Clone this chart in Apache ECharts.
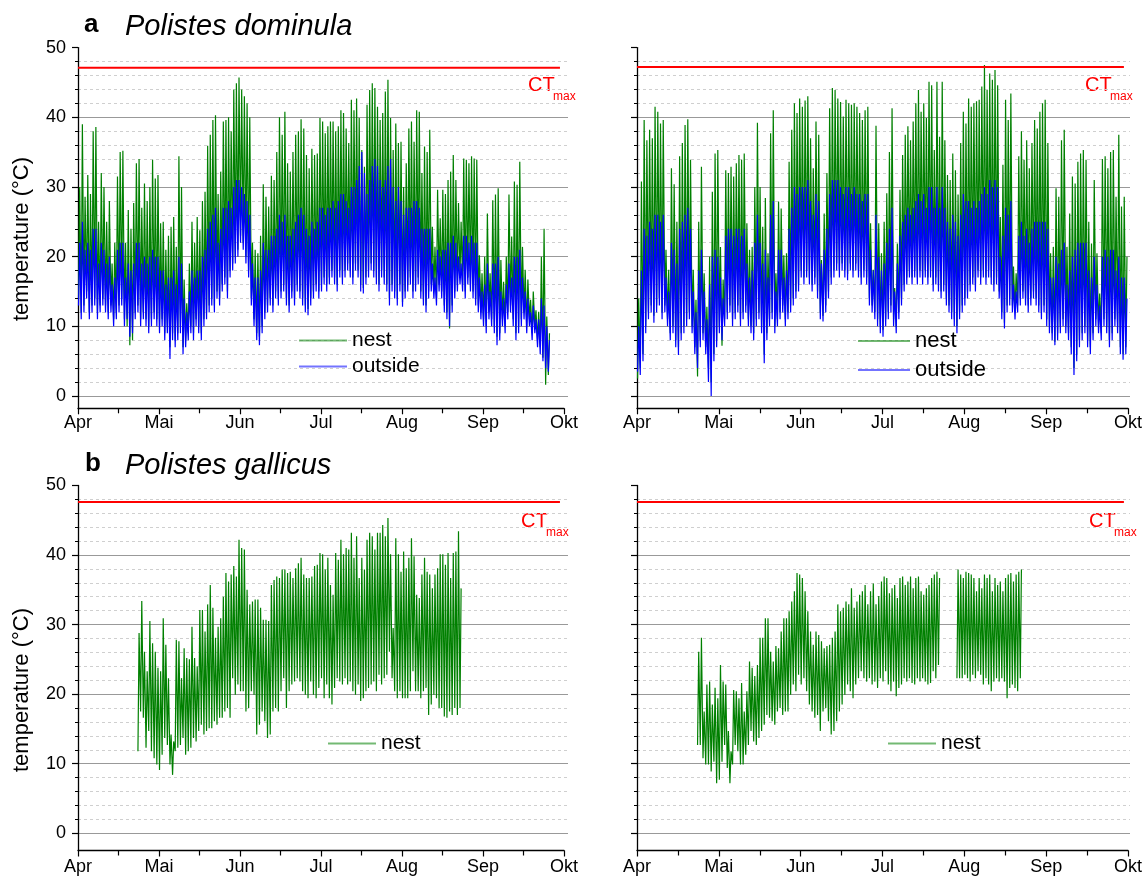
<!DOCTYPE html>
<html>
<head>
<meta charset="utf-8">
<title>Nest temperatures of Polistes</title>
<script src="https://cdn.jsdelivr.net/npm/echarts@6.0.0/dist/echarts.min.js"></script>
<style>
  html, body { margin: 0; padding: 0; background: #fff; }
  #chart { width: 1148px; height: 882px; }
</style>
</head>
<body>
<div id="chart"></div>
<script>
// ---- axis labels ----
const monthLabels = ['Apr', 'Mai', 'Jun', 'Jul', 'Aug', 'Sep', 'Okt'];
const monthDays = [30, 31, 30, 31, 31, 30];   // April .. September

// ---- critical thermal maximum (°C) ----
const ctMaxDominula = [47.1, 47.2];
const ctMaxGallicus = [47.6, 47.6];
const ctLineSpanMonths = [0, 5.95];

// ---- Polistes dominula, site 1 (daily max / min, from 1 April) ----
const domS1Start = 0;
const domS1NestMax = [
  30,39,28.6,31.7,29,38,38.6,25,32,30, 25,28,19,22,31.5,35,35.2,22,26.7,24,
  27.7,33.4,34,27,30.5,28,30,33.9,31.2,31.7, 24.8,25,21,23,24.3,25.7,21.4,34.4,30,16.7,
  13.3,19,25,22,25.7,23.8,28,29.3,35.9,37.5, 39.6,40.3,29,32.2,39.4,39.6,40,38,44,44.9,
  45.7,
  44,43,42,40,22,21,20.5,23,30.4, 28.6,27.2,31.6,31,35,40,37.5,40.8,33.4,32.2,
  35,37.5,38,39.7,38.4,34.6,32.7,35.5,34.6,34.8, 39.9,39.4,37.7,38.7,39.4,39.4,38,38.7,41,40.6,
  38.4,36.3,42.5,41,42.7,39.9,35.3,32.9,41.8,43.9, 44.9,44.2,41.5,39.6,40.6,43.7,45.4,39.9,35.3,39.1,
  36.3,36.5,30,33.4,
  38.4,39.4,36.5,41,40.8,32, 35.8,35,38.2,24.3,21.4,29.6,25.5,29.6,29,31,
  32.2,34.6,31,27.7,25,34.1,33.9,33.4,34.4,34.1, 33.9,20.2,17.6,20,26.2,17.6,28.1,28.9,29.8,19.5,
  16.4,20,28.9,22.9,30.8,30.3,33.6,21.4,18.1,16.7, 13.8,15,12.3,12.1,20,24,11.4,9
];
const domS1NestMin = [
  14,12,13,15,12,13,14,12,13,14, 13,12,13,11,12,13,14,11,10,7.3,
  8,12,13,11,12,11,10,11,12,11, 10,11,9,10,7,9,8,9,10,7,
  8,9,10,9,11,10,9,11,12,13, 14,13,15,14,16,17,15,18,19,20,
  21,
  23,22,20,18,14,11,9,8.5,10, 12,13,14,13,15,14,15,16,14,13,
  15,14,16,15,14,13,12.5,14,15,16, 15,16,17,16,17,18,17,16,18,17,
  18,19,18,17,19,18,16,15.5,17,18, 19,18,17,16,18,17,16,14,16,15,
  14,16,13.5,15,
  16,17,15,16,17,15, 14,13,15,16,15,14,16,15,13,12,
  9.7,13,15,16,17,16,15,17,16,15, 14,13,12,11,10,12,11,10,8.5,9,
  11,10,12,13,11,9,10,11,12,10, 11,9,10,8,7,5.5,1.6,3
];
const domS1OutMax = [
  22,25,21,22,21,24,24,19,22,21, 19,20,16,17,21,22,22,17,19,18,
  19,22,22,19,20,19,20,21,20,20, 18,18,16,17,17,18,16,20,19,14,
  12,15,18,17,18,18,20,21,24,25, 26,27,22,24,27,27,28,27,30,31,
  31,
  30,29,28,26,19,17,17,18,22, 21,21,23,23,24,26,25,26,23,23,
  24,25,26,27,26,24,23,25,24,25, 27,27,26,27,27,28,27,28,29,29,
  28,27,30,30,31,33,35,32,29,31, 33,34,33,31,30,31,33,34,30,28,
  30,28,26,27,
  27,27,28,28,27,24, 24,24,24,19,17,21,20,21,21,22,
  22,23,22,20,19,23,23,22,23,22, 22,17,15,16,19,15,19,19,20,15,
  14,16,19,17,20,20,21,17,15,14, 12,13,11,11,14,13,10,8
];
const domS1OutMin = [
  13,11,12,14,11,12,13,11,12,13, 12,11,12,10,11,12,13,10,11,8.5,
  9,11,12,10,11,10,9,10,11,10, 9,10,8,9,5.3,8,7,8,9,6,
  7,8,9,8,10,9,8,10,11,12, 13,12,14,13,15,16,14,17,18,19,
  20,
  22,21,19,17,13,10,8,7.3,9, 11,12,13,12,14,13,14,15,13,12,
  14,13,15,14,13,12,11.6,13,14,15, 14,15,16,15,16,17,16,15,17,16,
  17,18,17,16,18,17,15,14.7,16,17, 18,17,16,15,17,16,15,13,15,14,
  13,15,12.8,14,
  15,16,14,15,16,14, 13,12,14,15,14,13,15,14,12,11,
  10,12,14,15,16,15,14,16,15,14, 13,12,11,10,9,11,10,9,7.3,8,
  10,9,11,12,10,8,9,10,11,9, 10,8,9,7,6,5,4,3.5
];

// ---- Polistes dominula, site 2 ----
const domS2Start = 0;
const domS2NestMax = [
  14,30.8,39.6,36.7,38.2,37,41.5,40.8,39.1,39.6, 21,18.1,32.7,30.4,25,34.4,36.3,38.9,39.7,33.9,
  18.1,13.8,25,32.9,17.6,12.8,20,29.3,34.8,35.3, 21.4,16.7,32.4,32,32.9,31.5,33.4,34.6,33.9,34.8,
  24.8,21,21.4,30,39.2,30,24.3,28.4,20.5,37.7, 41,17.6,27.9,26.9,20.2,20.5,33.6,38.2,42,40.6,
  42.7,
  41.5,42.4,43,37,32.7,39.4,37.5,19.5,26.2, 32,41.3,44.2,43.9,42.7,42.2,40.1,42.5,42,41.8,
  42,41.5,40.6,39.6,41,41.5,24.8,18.1,38.8,24.8, 20.5,25,29.1,35,41.3,15.5,21.9,29.6,34.6,37.5,
  38.7,36.7,39.4,42,43.9,40.8,42,39.9,45.1,44.6, 35.3,45.1,37.2,45.1,36.7,31.7,31,34.8,32.4,28.9,
  36.3,40.8,39.1,
  42.7,41.5,42,42.3,42.5,44.4,47.5, 43.9,46.3,45.4,46.8,44.6,25.7,33.2,42.5,39.6,43.4,
  18.6,17.6,34.4,38,33.9,36.7,32.7,36.3,39.6,38.4, 40.8,42,42.5,36.3,20.5,21.4,29.8,28.6,36.7,38.2,
  21.4,26.2,31.5,30.5,33.6,34.8,35.3,33.9,25,21.9, 31,20.5,14.7,34,34.4,32.7,35,35.3,28.6,37.5,
  27.2,28.6,20
];
const domS2NestMin = [
  2.5,4,6,10,12,13,11.5,13,14,12, 13,11,9,10,8,7,9,10,11,12,
  10,7,2.8,8,9,7,4,2,6,8, 10,7.2,11,12,13,11,12,13,11,12,
  13,11,10,9,11,12,10,6,9,11, 12,10,11,12,13,11,12,13,14,15,
  16,
  18,17,18,17,16,17,15,12,11.5, 13,15,17,18,19,18,19,18,17.5,19,
  18,19,18,17,18,17,14,13,12,11, 10,9.5,11,12,13,11,9.9,12,14,16,
  17,18,17,18,17,18,17,18,17,18, 16,17,16,15,16,14,13,12,11,10,
  12,13,14,
  15,16,17,16,18,17,18, 17,18,17,16,17,15,12,10.5,13,14,
  13,12,13,14,15,14,13,14,15,14, 13,12,13,11,10,9,7.8,9,10,11,
  10,9,7,4,6,8,9,10,8,7, 9,11,10,9,11,10,8,9,11,10,
  7,6,7
];
const domS2OutMax = [
  10,18,24,23,25,24,26,26,25,26, 17,15,22,21,19,24,25,26,27,24,
  15,12,18,21,15,11,16,20,21,20, 17,14,23,24,24,23,24,24,23,24,
  19,17,18,22,26,22,19,21,17,26, 28,15,21,21,17,18,24,27,30,29,
  30,
  30,30,31,28,26,29,28,19,21, 24,29,31,31,31,30,29,30,30,29,
  30,29,29,28,29,29,21,18,26,20, 18,19,22,24,27,15,19,23,25,26,
  27,26,27,28,29,28,29,27,30,30, 27,30,27,30,27,25,24,26,25,23,
  26,29,28,
  28,27,28,27,28,29,30, 29,31,30,31,30,20,23,27,26,28,
  16,15,23,25,23,24,22,24,25,25, 25,25,25,24,17,17,20,19,21,22,
  16,18,20,21,22,22,22,22,18,17, 20,16,13,20,21,20,21,21,18,20,
  17,17,14
];
const domS2OutMin = [
  3.5,3,5,9,11,12,10.5,12,13,11, 12,10,8,9,7,5.9,8,9,10,11,
  9,6,4,7,8,6,2,0,5,7, 9,8,10,11,12,10,11,12,10,11,
  12,10,9,8,10,11,9,4.7,8,10, 11,9,10,11,12,10,11,12,13,14,
  15,
  17,16,17,16,15,16,14,11,10.7, 12,14,16,17,18,17,18,17,16.6,18,
  17,18,17,16,17,16,13,12,11,10, 9,8.5,10,11,12,10,9,11,13,15,
  16,17,16,17,16,17,16,17,16,17, 15,16,15,14,15,13,12,11,10,9,
  11,12,13,
  14,15,16,15,17,16,17, 16,17,16,15,16,14,11,9.7,12,13,
  12,11,12,13,14,13,12,13,14,13, 12,11,12,10,9,8,7.3,8,9,10,
  9,8,6,3,5,7,8,9,7,6, 8,10,9,8,10,9,7,8,10,9,
  6,5.2,6
];

// ---- Polistes gallicus, site 1 (from 23 April) ----
const galS1Start = 22;
const galS1NestMax = [
  28.8,33.4,26.1,23.3,30.5,27.3,26.1,23.8,23.3,30.9, 27.1,22.3,14.2,13.2,27.8,27.6,22.3,26.6,25.2,25,
  29.7,25.2,24,32.1,32.1,29,32.9,35.7,32.4,28.1, 29.7,30.9,34,37.4,36.2,37.2,38.4,36.9,42.2,41,
  40.8,35,32.9,33.3,33.6,33.6,32.4,30.7,30.7,30.5, 35.7,36.4,36.9,36.7,37.9,37.9,37.4,37.6,36.7,38.1,
  38.8,
  39.6,37.2,36.7,36.7,36.9,38.4,38.6,40.3,40.1,37.9, 39.6,35.7,34.3,40.3,39.3,42.2,40.1,41,40.8,43.2,
  39.6,42.7,36.7,39.6,37.9,42.2,43.2,42.7,40.8,43.2, 43.2,44.3,42.7,45.3,40.1,29.5,42.4,40.1,37.6,40.5,
  38.1,39.6,42.4,39.8,34.3,33.8,37.2,39.6,37.6,37.2, 35.2,37.2,38.1,40.1,40.1,38.6,40.3,36.7,40.3,40.5,
  43.4,35.2
];
const galS1NestMin = [
  11.8,17.5,16.6,12.3,14.7,11.8,10.8,9.9,9.1,11.3, 13.7,12.7,9.9,8.4,11.8,12.3,12.7,13.7,11.3,11.8,
  12.3,13.7,13.2,14.7,15.6,14.2,14.7,15.1,15.1,16.1, 15.6,16.6,16.6,17.5,18,16.6,22.3,19.9,21.4,20.4,
  20.4,17.5,18,20.4,19.9,14.2,15.6,17.5,16.1,13.7, 14.2,17.5,18,17.5,20.4,22.3,18,20.4,21.4,21.8,
  22.3,
  21.8,20.4,19.9,19.4,21.8,19.9,19.4,20.9,22.3,19.4, 21.4,19.4,18.5,20.9,22.3,21.8,21.4,22.3,21.4,21.8,
  20.4,19.9,21.4,19,19.4,20.4,20.9,21.4,21.8,20.4, 22.8,21.4,22.3,22.8,26.1,22.3,20.4,19.4,20.4,19.4,
  19.4,19.4,20.4,23.3,20.4,20.4,19.4,20.4,20.9,17, 18.5,19.9,19.4,18,18,16.8,16.6,17.5,17,18,
  17,18
];

// ---- Polistes gallicus, site 2 (logger gap 22.-29. July) ----
const galS2Start = 22;
const galS2NestMax = [
  26.1,28.1,17.5,21.4,21.8,18.5,20.9,19.4,24.2,21.8, 21.4,14.7,11.8,20.6,20.4,19.4,21.6,17.5,20.4,24.7,
  23.8,22.6,24.2,28.1,28.1,30.9,30.9,26.1,24.7,26.9, 26.6,29,30.9,30.9,31.9,33.3,34.8,37.4,37.2,36.7,
  34.8,31.9,29,27.1,29,28.5,27.6,26.6,26.9,27.1, 28.1,29,32.9,31.9,32.4,33.3,32.9,35.2,32.4,33.3,
  34.3,
  34.8,35.7,32.9,34.8,35.9,32.9,34.1,36.2,36.9,36.7, 34.5,35.2,35.7,33.8,36.7,36.9,35.7,36.2,36.9,35.2,
  36.7,36.9,34.8,34.3,35.2,35.7,36.7,37.2,37.6,36.7,
  null,null,null,null,null,null,
  37.9,37.2,36.7,37.6,37.4,37.2,36.7,34.8,36.7,35.2, 37.2,36.7,37.2,34.8,36.7,35.7,36.2,34.8,36.7,37.2,
  37.4,36.2,37.2,37.6,37.9
];
const galS2NestMin = [
  12.7,12.7,10.8,9.9,9.9,8.9,10.3,7.2,7.7,10.3, 12.7,9.4,7.2,9.9,12.7,11.8,9.9,9.9,11.3,12.7,
  14.7,13.2,12.7,13.7,14.7,15.6,17,16.6,16.1,15.6, 17.5,18,17,17.5,17.5,19.9,21.4,20.4,22.8,21.4,
  22.3,20.4,18.5,17.5,16.6,17,14.7,17.5,18,16.1, 14.2,14.7,16.1,17.5,18.5,19.9,21.4,20.4,19.4,21.4,
  22.3,
  23.3,22.3,21.8,22.3,21.4,21.8,20.9,22.3,21.8,23.3, 21.4,20.4,21.8,19.7,20.9,21.4,22.3,21.8,22.3,21.6,
  21.4,22.3,21.8,22.3,21.8,21.4,21.6,23.3,22.3,24.2,
  null,null,null,null,null,null,
  22.3,22.3,22.3,22.8,22.3,21.8,22.8,22.3,23.3,22.8, 21.4,22.3,21.4,20.4,21.8,22.3,21.8,22.3,21.8,19.4,
  20.9,21.4,20.9,20.4,22.3
];

// ---- helpers ----
// x axis runs in month units (0 = 1 April, 6 = 1 October)
function dayToMonthX(day) {
  let m = 0, start = 0;
  while (m < monthDays.length - 1 && day >= start + monthDays[m]) {
    start += monthDays[m];
    m++;
  }
  return m + (day - start) / monthDays[m];
}

// daily cycle: night minimum around 05:00, afternoon maximum around 15:00
function dailyCycle(startDay, mins, maxs) {
  const pts = [];
  for (let i = 0; i < maxs.length; i++) {
    const d = startDay + i;
    if (maxs[i] == null) { pts.push([dayToMonthX(d + 0.4), '-']); continue; }
    pts.push([dayToMonthX(d + 0.2), mins[i]]);
    pts.push([dayToMonthX(d + 0.62), maxs[i]]);
  }
  return pts;
}

// ---- layout ----
const FONT = '"Liberation Sans", Arial, Helvetica, sans-serif';
const colLeft = [78, 637];
const colWidth = [486, 491];
const colGridOverhang = [4, 2];  // horizontal grid lines run slightly past the October tick
const rowTop = [47.6, 485.4];    // y = 50 °C
const rowZero = [396.0, 833.3];  // y = 0 °C
const rowAxis = [408.3, 850.5];  // time axis line
const rowLabelMargin = [6, 8];

const GREEN = '#008000', BLUE = '#0000ff', RED = '#ff0000';

const panels = [
  { row: 0, col: 0, nest: [domS1Start, domS1NestMin, domS1NestMax], out: [domS1Start, domS1OutMin, domS1OutMax], ct: ctMaxDominula[0] },
  { row: 0, col: 1, nest: [domS2Start, domS2NestMin, domS2NestMax], out: [domS2Start, domS2OutMin, domS2OutMax], ct: ctMaxDominula[1] },
  { row: 1, col: 0, nest: [galS1Start, galS1NestMin, galS1NestMax], out: null, ct: ctMaxGallicus[0] },
  { row: 1, col: 1, nest: [galS2Start, galS2NestMin, galS2NestMax], out: null, ct: ctMaxGallicus[1] }
];

const grid = [], xAxis = [], yAxis = [], series = [];
panels.forEach((p, k) => {
  const left = colLeft[p.col], width = colWidth[p.col];
  const top = rowTop[p.row], zero = rowZero[p.row], axisY = rowAxis[p.row];
  const gA = 2 * k, gB = 2 * k + 1;
  // grid for the temperature scale (0..50)
  grid.push({ left: left, top: top, width: width + colGridOverhang[p.col], height: zero - top });
  // grid for the traces and the time axis (extends a little below 0 °C)
  grid.push({ left: left, top: top, width: width, height: axisY - top });
  const yMinB = -(axisY - zero) / (zero - top) * 50;

  xAxis.push({ gridIndex: gA, type: 'value', min: 0, max: 6, show: false });
  xAxis.push({
    gridIndex: gB, type: 'value', min: 0, max: 6, interval: 1,
    axisLine: { show: true, onZero: false, lineStyle: { color: '#000', width: 1.3 } },
    axisTick: { show: true, length: 6, lineStyle: { color: '#000', width: 1.2 } },
    minorTick: { show: true, splitNumber: 2, length: 5, lineStyle: { color: '#000', width: 1.2 } },
    axisLabel: { formatter: v => monthLabels[Math.round(v)], fontSize: 18, color: '#000', margin: rowLabelMargin[p.row], fontFamily: FONT },
    splitLine: { show: false }
  });

  yAxis.push({
    gridIndex: gA, type: 'value', min: 0, max: 50, interval: 10,
    axisLine: { show: false },
    axisTick: { show: true, length: 6, lineStyle: { color: '#000', width: 1.2 } },
    minorTick: { show: true, splitNumber: 5, length: 3, lineStyle: { color: '#000', width: 1 } },
    axisLabel: { show: p.col === 0, fontSize: 18, color: '#000', margin: 12, fontFamily: FONT },
    splitLine: { show: true, showMaxLine: false, lineStyle: { color: '#999', width: 1 } },
    minorSplitLine: { show: true, lineStyle: { color: '#cfcfcf', width: 1, type: [3, 3] } }
  });
  yAxis.push({
    gridIndex: gB, type: 'value', min: yMinB, max: 50,
    axisLine: { show: true, onZero: false, lineStyle: { color: '#000', width: 1.3 } },
    axisTick: { show: false }, axisLabel: { show: false }, splitLine: { show: false }
  });

  const base = { type: 'line', xAxisIndex: gB, yAxisIndex: gB, symbol: 'none', showSymbol: false, animation: false, silent: true };
  series.push(Object.assign({}, base, {
    name: 'nest', data: dailyCycle(p.nest[0], p.nest[1], p.nest[2]),
    lineStyle: { color: GREEN, width: 1.2 }, itemStyle: { color: GREEN }, z: 3
  }));
  if (p.out) {
    series.push(Object.assign({}, base, {
      name: 'outside', data: dailyCycle(p.out[0], p.out[1], p.out[2]),
      lineStyle: { color: BLUE, width: 1.2 }, itemStyle: { color: BLUE }, z: 4
    }));
  }
  series.push(Object.assign({}, base, {
    name: 'CTmax', data: ctLineSpanMonths.map(x => [x, p.ct]),
    lineStyle: { color: RED, width: 2 }, itemStyle: { color: RED }, z: 5
  }));
});

// legend keys are drawn as thin light strokes
const legendBase = {
  orient: 'vertical', padding: 0, icon: 'rect', itemHeight: 2,
  selectedMode: false,
  itemStyle: { opacity: 0.55 }
};
const legend = [
  Object.assign({}, legendBase, { data: ['nest', 'outside'], left: 299, top: 330, itemWidth: 48, itemGap: 5, textStyle: { color: '#000', fontSize: 21, fontFamily: FONT } }),
  Object.assign({}, legendBase, { data: ['nest', 'outside'], left: 858, top: 330, itemWidth: 52, itemGap: 7, textStyle: { color: '#000', fontSize: 22, fontFamily: FONT } }),
  Object.assign({}, legendBase, { data: ['nest'], left: 328, top: 733, itemWidth: 48, textStyle: { color: '#000', fontSize: 21, fontFamily: FONT } }),
  Object.assign({}, legendBase, { data: ['nest'], left: 888, top: 733, itemWidth: 48, textStyle: { color: '#000', fontSize: 21, fontFamily: FONT } })
];

// panel titles, axis titles and CTmax tags
function txt(x, y, text, style) {
  return { type: 'text', x: x, y: y, silent: true, style: Object.assign({ text: text, fill: '#000', font: '18px ' + FONT }, style) };
}
const graphic = [
  txt(84, 12, 'a', { font: 'bold 26px ' + FONT }),
  txt(125, 12, 'Polistes dominula', { font: 'italic 29px ' + FONT }),
  txt(85, 451, 'b', { font: 'bold 26px ' + FONT }),
  txt(125, 451, 'Polistes gallicus', { font: 'italic 29px ' + FONT }),
  Object.assign(txt(22, 239, 'temperature (°C)', { font: '22px ' + FONT, align: 'center', verticalAlign: 'middle' }), { rotation: Math.PI / 2 }),
  Object.assign(txt(22, 690, 'temperature (°C)', { font: '22px ' + FONT, align: 'center', verticalAlign: 'middle' }), { rotation: Math.PI / 2 }),
  txt(528, 75, 'CT', { font: '20px ' + FONT, fill: RED }),
  txt(553, 91, 'max', { font: '12px ' + FONT, fill: RED }),
  txt(1085, 75, 'CT', { font: '20px ' + FONT, fill: RED }),
  txt(1110, 91, 'max', { font: '12px ' + FONT, fill: RED }),
  txt(521, 511, 'CT', { font: '20px ' + FONT, fill: RED }),
  txt(546, 527, 'max', { font: '12px ' + FONT, fill: RED }),
  txt(1089, 511, 'CT', { font: '20px ' + FONT, fill: RED }),
  txt(1114, 527, 'max', { font: '12px ' + FONT, fill: RED })
];

const chart = echarts.init(document.getElementById('chart'), null, { renderer: 'canvas' });
chart.setOption({
  animation: false,
  backgroundColor: '#fff',
  textStyle: { fontFamily: FONT },
  grid: grid,
  xAxis: xAxis,
  yAxis: yAxis,
  legend: legend,
  graphic: graphic,
  series: series
});
</script>
</body>
</html>
